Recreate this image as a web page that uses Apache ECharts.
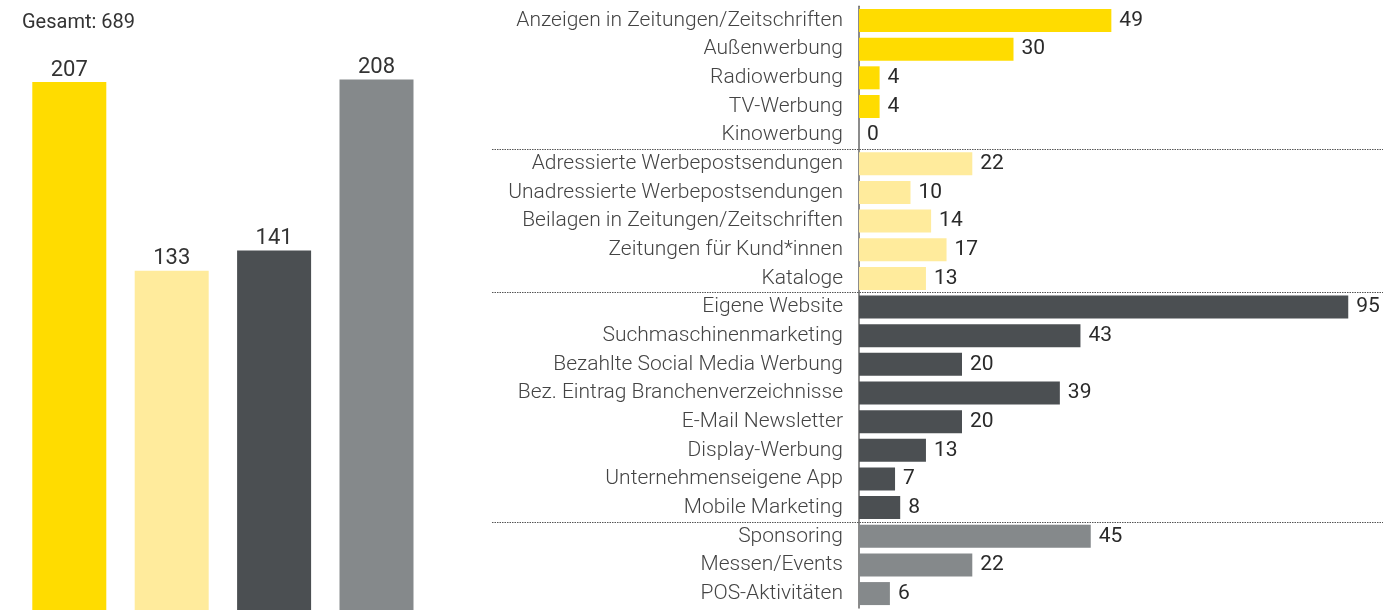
<!DOCTYPE html>
<html>
<head>
<meta charset="utf-8">
<script src="https://cdn.jsdelivr.net/npm/echarts@6/dist/echarts.min.js"></script>
<style>
  html, body { margin: 0; padding: 0; background: #fff; }
  #chart { width: 1400px; height: 610px; }
</style>
</head>
<body>
<div id="chart"></div>
<script>
// Gesamt-Balken links (eine Gruppe pro Balken)
var groups = ["Klassisch", "Print/Post", "Online", "Sonstiges"];
var groupTotals = [207, 133, 141, 208];
var groupColors = ["#FFDC00", "#FFEB9C", "#4B4F52", "#85898B"];

// Einzelwerte rechts
var categories = [
  "Anzeigen in Zeitungen/Zeitschriften", "Außenwerbung", "Radiowerbung", "TV-Werbung", "Kinowerbung",
  "Adressierte Werbepostsendungen", "Unadressierte Werbepostsendungen", "Beilagen in Zeitungen/Zeitschriften",
  "Zeitungen für Kund*innen", "Kataloge",
  "Eigene Website", "Suchmaschinenmarketing", "Bezahlte Social Media Werbung", "Bez. Eintrag Branchenverzeichnisse",
  "E-Mail Newsletter", "Display-Werbung", "Unternehmenseigene App", "Mobile Marketing",
  "Sponsoring", "Messen/Events", "POS-Aktivitäten"
];
var values = [49, 30, 4, 4, 0, 22, 10, 14, 17, 13, 95, 43, 20, 39, 20, 13, 7, 8, 45, 22, 6];
var categoryGroup = [0, 0, 0, 0, 0, 1, 1, 1, 1, 1, 2, 2, 2, 2, 2, 2, 2, 2, 3, 3, 3];
// dotted line drawn above these rows
var separatorsAt = [5, 10, 18];

var font = "Roboto";
var chart = echarts.init(document.getElementById("chart"));

var rowTop = 6.2, rowHeight = 601.7;

chart.setOption({
  animation: false,
  title: {
    text: "Gesamt: 689",
    left: 17, top: 8,
    textStyle: { fontFamily: font, fontSize: 20, fontWeight: "normal", color: "#333" }
  },
  grid: [
    { left: 18.1, width: 409.6, top: 23.4, height: 591, containLabel: false },
    { left: 859, width: 515, top: rowTop, height: rowHeight, containLabel: false },
    { left: 492, width: 891, top: rowTop, height: rowHeight, containLabel: false }
  ],
  xAxis: [
    { type: "category", gridIndex: 0, data: groups, show: false },
    { type: "value", gridIndex: 1, min: 0, max: 100, show: false },
    { type: "value", gridIndex: 2, min: 0, max: 1, show: false }
  ],
  yAxis: [
    { type: "value", gridIndex: 0, min: 0, max: 230, show: false },
    {
      type: "category", gridIndex: 1, data: categories, inverse: true,
      axisLine: { show: true, lineStyle: { color: "#666", width: 1.5 } },
      axisTick: { show: false },
      splitLine: { show: false },
      axisLabel: {
        margin: 16, fontFamily: font, fontSize: 21, fontWeight: 300, color: "#444"
      }
    },
    // row index scale for the separators (0 = top edge, 21 = bottom edge)
    { type: "value", gridIndex: 2, min: 0, max: categories.length, inverse: true, show: false }
  ],
  series: [
    {
      type: "bar", xAxisIndex: 0, yAxisIndex: 0, barWidth: 74,
      data: groupTotals.map(function (v, i) {
        return { value: v, itemStyle: { color: groupColors[i] } };
      }),
      label: {
        show: true, position: "top", distance: 1,
        fontFamily: font, fontSize: 22, color: "#333"
      }
    },
    {
      type: "bar", xAxisIndex: 1, yAxisIndex: 1, barWidth: 23,
      data: values.map(function (v, i) {
        return { value: v, itemStyle: { color: groupColors[categoryGroup[i]] } };
      }),
      label: {
        show: true, position: "right", distance: 8,
        fontFamily: font, fontSize: 21, color: "#2a2a2a"
      }
    },
    {
      type: "line", xAxisIndex: 2, yAxisIndex: 2, data: [],
      markLine: {
        silent: true, symbol: "none", label: { show: false },
        lineStyle: { color: "#555", type: [1.5, 1], width: 1 },
        data: separatorsAt.map(function (i) { return { yAxis: i }; })
      }
    }
  ]
});
</script>
</body>
</html>
